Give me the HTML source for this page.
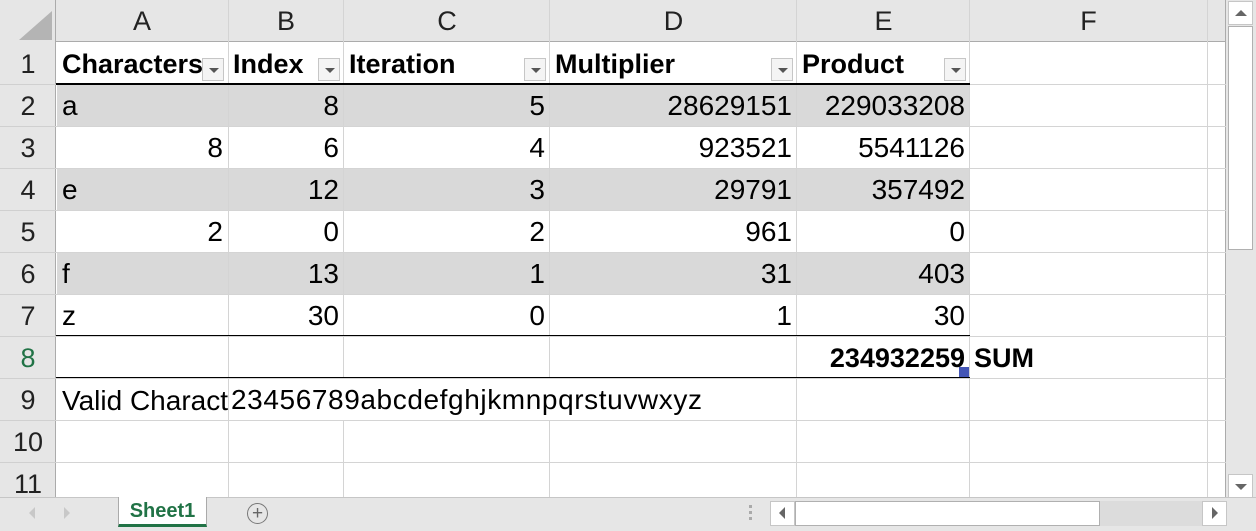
<!DOCTYPE html>
<html><head><style>
body{margin:0;width:1256px;height:531px;position:relative;overflow:hidden;background:#fff;font-family:"Liberation Sans",Arial,sans-serif;}
.a{position:absolute;}
.vl{position:absolute;width:1px;background:#d4d4d4;}
.hl{position:absolute;height:1px;background:#d4d4d4;}
.t{position:absolute;font-size:28px;line-height:44px;white-space:nowrap;color:#000;}
.r{text-align:right;}
.b{font-weight:bold;}
.ch{position:absolute;top:0;height:41px;line-height:42px;font-size:27px;text-align:center;color:#222;}
.rh{position:absolute;left:0;width:56px;text-align:center;font-size:27px;line-height:44px;color:#222;}
.dd{position:absolute;width:22px;height:23px;border:1px solid #c6c6c6;background:#f4f4f4;box-sizing:border-box;}
.dd:after{content:"";position:absolute;left:6px;top:9px;border-left:5px solid transparent;border-right:5px solid transparent;border-top:5px solid #555;}
</style></head><body>
<div class="a" style="left:0;top:0;width:1226px;height:42px;background:#e6e6e6;border-bottom:1px solid #ababab;box-sizing:border-box"></div>
<div class="a" style="left:0;top:0;width:56px;height:497px;background:#e6e6e6;border-right:1px solid #ababab;box-sizing:border-box"></div>
<div class="a" style="left:19px;top:11px;width:0;height:0;border-left:33px solid transparent;border-bottom:29px solid #b4b4b4"></div>
<div class="a" style="left:57px;top:85px;width:913px;height:41px;background:#d9d9d9"></div>
<div class="a" style="left:57px;top:169px;width:913px;height:41px;background:#d9d9d9"></div>
<div class="a" style="left:57px;top:253px;width:913px;height:41px;background:#d9d9d9"></div>
<div class="vl" style="left:228px;top:0;height:497px"></div>
<div class="vl" style="left:343px;top:0;height:497px"></div>
<div class="vl" style="left:549px;top:0;height:497px"></div>
<div class="vl" style="left:796px;top:0;height:497px"></div>
<div class="vl" style="left:969px;top:0;height:497px"></div>
<div class="vl" style="left:1207px;top:0;height:497px"></div>
<div class="vl" style="left:1225px;top:0;height:497px;background:#ababab"></div>
<div class="hl" style="left:56px;top:126px;width:1170px"></div>
<div class="hl" style="left:56px;top:168px;width:1170px"></div>
<div class="hl" style="left:56px;top:210px;width:1170px"></div>
<div class="hl" style="left:56px;top:252px;width:1170px"></div>
<div class="hl" style="left:56px;top:294px;width:1170px"></div>
<div class="hl" style="left:56px;top:336px;width:1170px"></div>
<div class="hl" style="left:56px;top:378px;width:1170px"></div>
<div class="hl" style="left:56px;top:420px;width:1170px"></div>
<div class="hl" style="left:56px;top:462px;width:1170px"></div>
<div class="hl" style="left:970px;top:84px;width:256px"></div>
<div class="a" style="left:0;top:84px;width:56px;height:1px;background:#d0d0d0"></div>
<div class="a" style="left:0;top:126px;width:56px;height:1px;background:#d0d0d0"></div>
<div class="a" style="left:0;top:168px;width:56px;height:1px;background:#d0d0d0"></div>
<div class="a" style="left:0;top:210px;width:56px;height:1px;background:#d0d0d0"></div>
<div class="a" style="left:0;top:252px;width:56px;height:1px;background:#d0d0d0"></div>
<div class="a" style="left:0;top:294px;width:56px;height:1px;background:#d0d0d0"></div>
<div class="a" style="left:0;top:336px;width:56px;height:1px;background:#d0d0d0"></div>
<div class="a" style="left:0;top:378px;width:56px;height:1px;background:#d0d0d0"></div>
<div class="a" style="left:0;top:420px;width:56px;height:1px;background:#d0d0d0"></div>
<div class="a" style="left:0;top:462px;width:56px;height:1px;background:#d0d0d0"></div>
<div class="a" style="left:56px;top:83px;width:914px;height:2px;background:#000"></div>
<div class="a" style="left:56px;top:335px;width:914px;height:1px;background:#000"></div>
<div class="a" style="left:56px;top:377px;width:914px;height:1px;background:#000"></div>
<div class="ch" style="left:56px;width:172px">A</div>
<div class="ch" style="left:228px;width:116px">B</div>
<div class="ch" style="left:344px;width:206px">C</div>
<div class="ch" style="left:550px;width:247px">D</div>
<div class="ch" style="left:797px;width:173px">E</div>
<div class="ch" style="left:970px;width:237px">F</div>
<div class="rh" style="top:42px">1</div><div class="rh" style="top:84px">2</div><div class="rh" style="top:126px">3</div><div class="rh" style="top:168px">4</div><div class="rh" style="top:210px">5</div><div class="rh" style="top:252px">6</div><div class="rh" style="top:294px">7</div><div class="rh" style="top:336px;color:#217346">8</div><div class="rh" style="top:378px">9</div><div class="rh" style="top:420px">10</div><div class="rh" style="top:462px">11</div>
<div class="t b" style="left:62px;top:42px;font-size:27px">Characters</div>
<div class="t b" style="left:233px;top:42px;font-size:27px">Index</div>
<div class="t b" style="left:349px;top:42px;font-size:27px">Iteration</div>
<div class="t b" style="left:555px;top:42px;font-size:27px">Multiplier</div>
<div class="t b" style="left:802px;top:42px;font-size:27px">Product</div>
<div class="dd" style="left:202px;top:58px"></div>
<div class="dd" style="left:318px;top:58px"></div>
<div class="dd" style="left:524px;top:58px"></div>
<div class="dd" style="left:771px;top:58px"></div>
<div class="dd" style="left:944px;top:58px"></div>
<div class="t" style="left:62px;top:84px">a</div>
<div class="t r" style="left:228px;width:111px;top:84px">8</div>
<div class="t r" style="left:344px;width:201px;top:84px">5</div>
<div class="t r" style="left:550px;width:242px;top:84px">28629151</div>
<div class="t r" style="left:797px;width:168px;top:84px">229033208</div>
<div class="t r" style="left:56px;width:167px;top:126px">8</div>
<div class="t r" style="left:228px;width:111px;top:126px">6</div>
<div class="t r" style="left:344px;width:201px;top:126px">4</div>
<div class="t r" style="left:550px;width:242px;top:126px">923521</div>
<div class="t r" style="left:797px;width:168px;top:126px">5541126</div>
<div class="t" style="left:62px;top:168px">e</div>
<div class="t r" style="left:228px;width:111px;top:168px">12</div>
<div class="t r" style="left:344px;width:201px;top:168px">3</div>
<div class="t r" style="left:550px;width:242px;top:168px">29791</div>
<div class="t r" style="left:797px;width:168px;top:168px">357492</div>
<div class="t r" style="left:56px;width:167px;top:210px">2</div>
<div class="t r" style="left:228px;width:111px;top:210px">0</div>
<div class="t r" style="left:344px;width:201px;top:210px">2</div>
<div class="t r" style="left:550px;width:242px;top:210px">961</div>
<div class="t r" style="left:797px;width:168px;top:210px">0</div>
<div class="t" style="left:62px;top:252px">f</div>
<div class="t r" style="left:228px;width:111px;top:252px">13</div>
<div class="t r" style="left:344px;width:201px;top:252px">1</div>
<div class="t r" style="left:550px;width:242px;top:252px">31</div>
<div class="t r" style="left:797px;width:168px;top:252px">403</div>
<div class="t" style="left:62px;top:294px">z</div>
<div class="t r" style="left:228px;width:111px;top:294px">30</div>
<div class="t r" style="left:344px;width:201px;top:294px">0</div>
<div class="t r" style="left:550px;width:242px;top:294px">1</div>
<div class="t r" style="left:797px;width:168px;top:294px">30</div>
<div class="t r b" style="left:797px;width:168px;top:336px;font-size:27px">234932259</div>
<div class="a" style="left:959px;top:367px;width:10px;height:10px;background:#4355b5"></div>
<div class="t b" style="left:974px;top:336px;font-size:27px">SUM</div>
<div class="a" style="left:57px;top:379px;width:171px;height:41px;overflow:hidden"><div class="t" style="left:5px;top:0">Valid Characters</div></div>
<div class="a" style="left:229px;top:379px;width:567px;height:41px;background:#fff"></div>
<div class="t" style="left:231px;top:378px;letter-spacing:0.6px">23456789abcdefghjkmnpqrstuvwxyz</div>
<div class="a" style="left:1226px;top:0;width:30px;height:497px;background:#e6e6e6"></div>
<div class="a" style="left:1228px;top:1px;width:25px;height:24px;background:#fff;border:1px solid #c6c6c6;box-sizing:border-box"></div>
<div class="a" style="left:1235px;top:10px;border-left:6px solid transparent;border-right:6px solid transparent;border-bottom:6px solid #666"></div>
<div class="a" style="left:1228px;top:26px;width:25px;height:224px;background:#fff;border:1px solid #b0b0b0;box-sizing:border-box"></div>
<div class="a" style="left:1228px;top:474px;width:25px;height:24px;background:#fff;border:1px solid #c6c6c6;box-sizing:border-box"></div>
<div class="a" style="left:1235px;top:484px;border-left:6px solid transparent;border-right:6px solid transparent;border-top:6px solid #666"></div>
<div class="a" style="left:0;top:497px;width:1256px;height:34px;background:#e6e6e6;border-top:1px solid #c6c6c6;box-sizing:border-box"></div>
<div class="a" style="left:29px;top:507px;border-top:6px solid transparent;border-bottom:6px solid transparent;border-right:6px solid #c8c8c8"></div>
<div class="a" style="left:64px;top:507px;border-top:6px solid transparent;border-bottom:6px solid transparent;border-left:6px solid #c8c8c8"></div>
<div class="a" style="left:118px;top:497px;width:89px;height:30px;background:#fff;border:1px solid #aaa;border-top:none;border-bottom:3px solid #217346;box-sizing:border-box;text-align:center;font-weight:bold;font-size:20px;line-height:28px;color:#217346">Sheet1</div>
<div class="a" style="left:247px;top:503px;width:19px;height:19px;border:1px solid #777;border-radius:50%;text-align:center;line-height:19px;font-size:19px;color:#666">+</div>
<div class="a" style="left:749px;top:505px;width:3px;height:3px;background:#aaa;box-shadow:0 6px #aaa,0 12px #aaa"></div>
<div class="a" style="left:770px;top:501px;width:456px;height:25px;background:#dcdcdc"></div>
<div class="a" style="left:770px;top:501px;width:25px;height:25px;background:#fff;border:1px solid #c6c6c6;box-sizing:border-box"></div>
<div class="a" style="left:779px;top:507px;border-top:6px solid transparent;border-bottom:6px solid transparent;border-right:6px solid #666"></div>
<div class="a" style="left:795px;top:501px;width:305px;height:25px;background:#fff;border:1px solid #b0b0b0;box-sizing:border-box"></div>
<div class="a" style="left:1202px;top:501px;width:25px;height:25px;background:#fff;border:1px solid #c6c6c6;box-sizing:border-box"></div>
<div class="a" style="left:1212px;top:507px;border-top:6px solid transparent;border-bottom:6px solid transparent;border-left:6px solid #666"></div>
</body></html>
